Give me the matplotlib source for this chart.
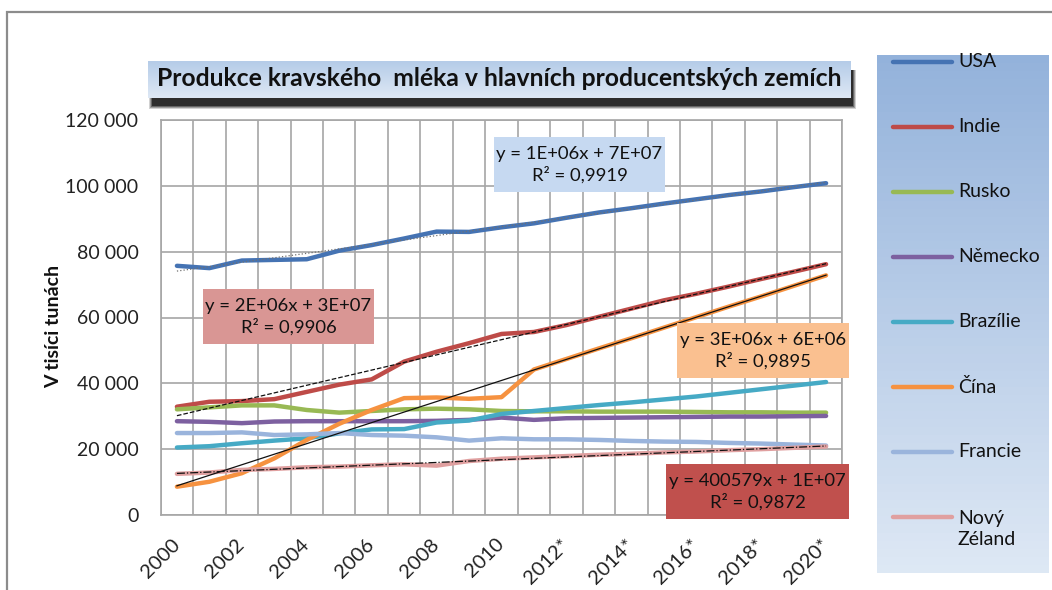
import numpy as np
import matplotlib.pyplot as plt
from matplotlib.patches import Rectangle
from matplotlib.lines import Line2D

plt.rcParams['font.family'] = ['Lato', 'DejaVu Sans']

# data (thousand tonnes), 2012*-2020* are projections
years = ['2000', '2001', '2002', '2003', '2004', '2005', '2006', '2007', '2008', '2009', '2010',
         '2011', '2012*', '2013*', '2014*', '2015*', '2016*', '2017*', '2018*', '2019*', '2020*']
usa = [75700, 75000, 77300, 77500, 77700, 80300, 82000, 84000, 86100, 86000, 87400,
       88600, 90300, 91900, 93200, 94600, 95900, 97200, 98300, 99600, 100800]
indie = [32900, 34400, 34600, 35200, 37400, 39600, 41200, 46600, 49600, 52200, 55000,
         55600, 57700, 60200, 62700, 65200, 67200, 69400, 71700, 73900, 76200]
rusko = [32100, 32700, 33300, 33300, 31900, 31100, 31600, 32100, 32300, 32100, 31600,
         31500, 31500, 31400, 31400, 31400, 31300, 31200, 31200, 31100, 31100]
nemecko = [28500, 28300, 27900, 28400, 28500, 28500, 28500, 28500, 28600, 28900, 29600,
           28900, 29400, 29500, 29600, 29700, 29800, 29900, 29900, 30000, 30100]
brazilie = [20500, 20900, 21800, 22600, 23300, 24800, 26000, 26100, 28100, 28700, 30700,
            31600, 32500, 33400, 34200, 35100, 36000, 37100, 38200, 39300, 40400]
cina = [8600, 10100, 12700, 17200, 22800, 27700, 31900, 35500, 35700, 35300, 35800,
        44200, 47400, 50600, 53700, 56900, 60100, 63300, 66400, 69600, 72800]
francie = [24900, 24900, 25100, 24300, 24500, 24900, 24300, 24100, 23600, 22600, 23300,
           23000, 23000, 22800, 22500, 22300, 22200, 21900, 21700, 21400, 21100]
nz = [12500, 12900, 13700, 14000, 14500, 14700, 15100, 15400, 15000, 16400, 17100,
      17500, 17900, 18300, 18600, 19000, 19300, 19700, 20000, 20400, 20800]

names = ['USA', 'Indie', 'Rusko', 'Německo', 'Brazílie', 'Čína', 'Francie', 'Nový\nZéland']
series = [usa, indie, rusko, nemecko, brazilie, cina, francie, nz]
colors = ['#4573b3', '#be4b48', '#98b954', '#7d60a0', '#46aac5', '#f69240', '#9ab4dc', '#e0a0a0']

# trendlines: series index, line style, equation label, box colour
trends = [(0, ':', 'y = 1E+06x + 7E+07\nR² = 0,9919', '#c6d9f1'),
          (1, '--', 'y = 2E+06x + 3E+07\nR² = 0,9906', '#d99694'),
          (5, '-', 'y = 3E+06x + 6E+06\nR² = 0,9895', '#fac090'),
          (7, '-.', 'y = 400579x + 1E+07\nR² = 0,9872', '#c0504d')]

W, H = 1052, 590
fig = plt.figure(figsize=(W / 100, H / 100), dpi=100)


def rect(x0, y0, x1, y1):
    # pixel box (top-left origin) -> figure fraction rect
    return [x0 / W, 1 - y1 / H, (x1 - x0) / W, (y1 - y0) / H]


# outer chart frame
fig.patches.append(Rectangle((7 / W, -0.1), 1.2, 1 - 12 / H + 0.1, transform=fig.transFigure,
                             fill=False, ec='#8c8c8c', lw=1.6, zorder=-5))

ax = fig.add_axes(rect(160.7, 120, 842.3, 515))
x = np.arange(len(years))
for s, c in zip(series, colors):
    ax.plot(x, s, color=c, lw=3.2, solid_capstyle='round', solid_joinstyle='round', zorder=3)

for idx, ls, _, _ in trends:
    k, q = np.polyfit(x, series[idx], 1)
    tc = '#707070' if ls == ':' else '#111111'
    ax.plot(x, k * x + q, ls=ls, color=tc, lw=0.9, zorder=4)

ax.set_xlim(-0.5, len(years) - 0.5)
ax.set_ylim(0, 120000)
yt = np.arange(0, 120001, 20000)
ax.set_yticks(yt)
ax.set_yticklabels([f'{v:,.0f}'.replace(',', ' ') for v in yt], fontsize=14, color='#222222')
ax.set_xticks(x[::2])
ax.set_xticklabels(years[::2], rotation=45, ha='right', va='center', rotation_mode='anchor',
                   fontsize=14.5, color='#222222')
ax.set_xticks(np.arange(-0.5, len(years), 1), minor=True)
ax.tick_params(axis='both', which='both', length=0)
ax.tick_params(axis='x', pad=19)
ax.tick_params(axis='y', pad=16)
ax.grid(which='minor', axis='x', color='#a6a6a6', lw=1.2)
ax.grid(which='major', axis='y', color='#a6a6a6', lw=1.2)
for sp in ax.spines.values():
    sp.set_color('#a6a6a6')
    sp.set_linewidth(1.2)
ax.set_axisbelow(True)

fig.text(54 / W, 1 - 326 / H, 'V tisíci tunách', rotation=90, ha='center', va='center',
         fontsize=14, fontweight='bold', color='#111111')

# equation boxes
eq_boxes = [(494, 137, 665, 192), (203, 289, 374, 344), (677, 323, 849, 378), (666, 464, 849, 519)]
for (idx, ls, label, bc), (x0, y0, x1, y1) in zip(trends, eq_boxes):
    r = rect(x0, y0, x1, y1)
    fig.patches.append(Rectangle((r[0], r[1]), r[2], r[3], transform=fig.transFigure,
                                 fc=bc, ec='none', zorder=5))
    fig.text((x0 + x1) / 2 / W, 1 - (y0 + y1) / 2 / H, label, ha='center', va='center',
             fontsize=13.3, linespacing=1.3, color='#111111', zorder=6)

# title with shadow and gradient
for i, a in enumerate([0.18, 0.25, 0.35, 0.55]):
    d = 3 - i
    r = rect(152 - d, 70, 853 + d, 106 + d)
    fig.patches.append(Rectangle((r[0], r[1]), r[2], r[3], transform=fig.transFigure,
                                 fc='black', ec='none', alpha=a, zorder=7))
tax = fig.add_axes(rect(148, 61, 851, 98), zorder=8)
grad = np.linspace(0, 1, 64)[:, None]
c_top, c_bot = np.array([0.71, 0.80, 0.91]), np.array([0.87, 0.91, 0.96])
tax.imshow(c_top + grad[..., None] * (c_bot - c_top), aspect='auto', extent=(0, 1, 0, 1))
tax.set_xlim(0, 1)
tax.set_ylim(0, 1)
tax.axis('off')
tax.text(0.5, 0.52, 'Produkce kravského  mléka v hlavních producentských zemích', ha='center',
         va='center', fontsize=17.8, fontweight='bold', color='#111111')

# legend panel
lax = fig.add_axes(rect(877, 55, 1049, 573), zorder=8)
l_top, l_bot = np.array([0.58, 0.70, 0.86]), np.array([0.87, 0.91, 0.96])
lax.imshow(l_top + grad[..., None] * (l_bot - l_top), aspect='auto', extent=(877, 1049, 573, 55))
lax.set_xlim(877, 1049)
lax.set_ylim(573, 55)
lax.axis('off')
for i, (n, c) in enumerate(zip(names, colors)):
    yy = 62 + 65 * i
    lax.add_line(Line2D([893, 952], [yy, yy], color=c, lw=3.2, solid_capstyle='round'))
    nl = n.count('\n')
    lax.text(958, yy + 12 * nl, n, ha='left', va='center', fontsize=14, color='#111111',
             linespacing=1.25)

fig.savefig('out.png', dpi=100)
